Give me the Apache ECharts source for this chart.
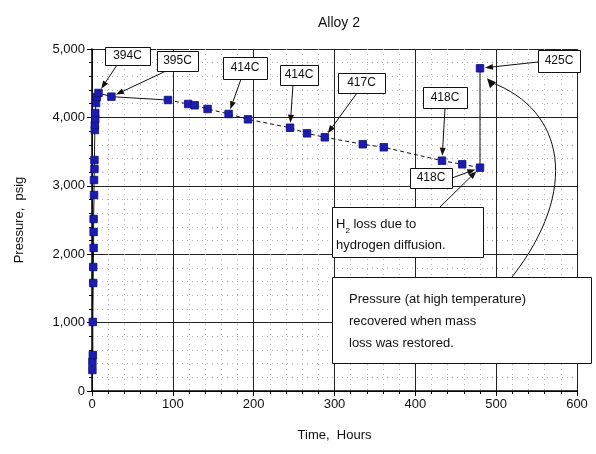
<!DOCTYPE html>
<html><head><meta charset="utf-8">
<script src="https://cdn.jsdelivr.net/npm/echarts@6/dist/echarts.min.js"></script>
<style>html,body{margin:0;padding:0;background:#fff}#c{width:596px;height:454px}</style>
</head><body><div id="c"></div>
<script>
// ---- data (time in hours, pressure in psig) ----
const times = [0.5,0.5,1,1,1.5,1.5,2,2,2,2.5,2.5,3,3,3.5,3.5,4,4,5,6,8,24,94,119,127,143,169,193,245,266,288,335,361,433,458,480,480];
const pressures = [307,424,526,1009,1579,1813,2091,2325,2515,2865,3085,3246,3377,3816,3889,3977,4064,4211,4298,4357,4303,4254,4196,4177,4123,4050,3972,3849,3767,3709,3607,3563,3367,3314,3265,4718];
const xTicks = [0,100,200,300,400,500,600];
const yTicks = [0,1000,2000,3000,4000,5000];
// annotation labels and the data point index each points to
const tempLabels = ['394C','395C','414C','414C','417C','418C','418C','425C'];
const tempTargets = [19,20,25,27,29,32,34,35];

const pts = times.map((t,i)=>[t,pressures[i]]);
const seg1 = pts.slice(0,22), seg2 = pts.slice(21,35), seg3 = pts.slice(34,36);

const chart = echarts.init(document.getElementById('c'));
const font = 'Liberation Sans, Arial, sans-serif';
const lineSeries = (data, type) => ({type:'line', data, symbol:'none', silent:true,
  lineStyle:{color:'#111', width:1, type}, z:2});
chart.setOption({
  animation:false,
  title:{text:'Alloy 2', left:334, top:11, textAlign:'center',
    textStyle:{fontFamily:font, fontSize:14, fontWeight:'normal', color:'#111'}},
  grid:{left:92, right:19, top:49, bottom:63},
  xAxis:{type:'value', min:xTicks[0], max:xTicks[xTicks.length-1], interval:100,
    name:'Time,  Hours', nameLocation:'middle', nameGap:38,
    nameTextStyle:{fontFamily:font, fontSize:13, color:'#111'},
    axisLine:{onZero:false, lineStyle:{color:'#000', width:1.5}},
    axisTick:{show:true, length:5, inside:false, lineStyle:{color:'#000'}},
    minorTick:{show:true, splitNumber:5, length:3, lineStyle:{color:'#000'}},
    axisLabel:{fontFamily:font, fontSize:13, color:'#111', margin:7},
    splitLine:{show:true, lineStyle:{color:'#222', width:1}},
    minorSplitLine:{show:true, lineStyle:{color:'#b4b4b4', type:[1,4], width:1}}},
  yAxis:{type:'value', min:yTicks[0], max:yTicks[yTicks.length-1], interval:1000,
    name:'Pressure,  psig', nameLocation:'middle', nameGap:66, nameRotate:90,
    nameTextStyle:{fontFamily:font, fontSize:13, color:'#111'},
    axisLine:{show:true, onZero:false, lineStyle:{color:'#000', width:1.5}},
    axisTick:{show:true, length:5, lineStyle:{color:'#000'}},
    minorTick:{show:true, splitNumber:5, length:3, lineStyle:{color:'#000'}},
    axisLabel:{fontFamily:font, fontSize:13, color:'#111', margin:7,
      formatter:v=>v.toLocaleString('en-US')},
    splitLine:{show:true, lineStyle:{color:'#222', width:1}},
    minorSplitLine:{show:true, lineStyle:{color:'#b4b4b4', type:[1,4], width:1}}},
  series:[
    lineSeries(seg1,'solid'),
    lineSeries(seg2,[4,3]),
    lineSeries(seg3,'solid'),
    {type:'scatter', data:pts, symbol:'rect', symbolSize:7.5, z:5,
      itemStyle:{color:'#1c1cb0', opacity:1, borderColor:'#0c0c80', borderWidth:0.8}}
  ]
});

// ---- annotations (boxes placed in pixels, arrows aimed at data points) ----
const boxes = [ // [x, y, w, h, arrow start x, arrow start y]
  [105,47,45,18,117,65],
  [157,51,41,20,166,71],
  [223,57,44,22,241,79],
  [280,65,38,20,293,85],
  [338,73,47,20,357,93],
  [423,87,44,21,445,108],
  [410,168,42,20,452,178],
  [538,50,42,22,538,62]
];
const g = [];
function arrow(x1,y1,x2,y2,back){
  const dx=x2-x1, dy=y2-y1, L=Math.hypot(dx,dy), ux=dx/L, uy=dy/L;
  const ex=x2-ux*back, ey=y2-uy*back;
  const hx=ex-ux*8, hy=ey-uy*8, px=-uy*3, py=ux*3;
  g.push({type:'line', shape:{x1,y1,x2:hx,y2:hy}, style:{stroke:'#111', lineWidth:1}, z:20});
  g.push({type:'polygon', shape:{points:[[ex,ey],[hx+px,hy+py],[hx-px,hy-py]]}, style:{fill:'#111'}, z:20});
}
tempLabels.forEach((lab,i)=>{
  const b = boxes[i];
  const p = chart.convertToPixel({gridIndex:0}, pts[tempTargets[i]]);
  arrow(b[4],b[5],p[0],p[1],5);
  g.push({type:'rect', shape:{x:b[0]+0.5,y:b[1]+0.5,width:b[2],height:b[3]}, style:{fill:'#fff', stroke:'#111', lineWidth:1}, z:21});
  g.push({type:'text', x:b[0]+b[2]/2, y:b[1]+b[3]/2, style:{text:lab, fontFamily:font, fontSize:12, fill:'#111', align:'center', verticalAlign:'middle'}, z:22});
});
// H2 loss box
const pLow = chart.convertToPixel({gridIndex:0}, pts[34]);
arrow(440,207,pLow[0],pLow[1],5);
g.push({type:'rect', shape:{x:332.5,y:207.5,width:151,height:50}, style:{fill:'#fff', stroke:'#111', lineWidth:1}, z:21});
g.push({type:'text', x:336, y:214, style:{text:'{a|H}{s|2}{a| loss due to}\n{a|hydrogen diffusion.}', fontFamily:font, fill:'#111',
  rich:{a:{fontFamily:font, fontSize:13, lineHeight:21, fill:'#111'}, s:{fontFamily:font, fontSize:8, verticalAlign:'bottom', padding:[8,0,0,0], fill:'#111'}}}, z:22});
// Pressure recovered box with curved arrow
const pHigh = chart.convertToPixel({gridIndex:0}, pts[35]);
const cx2 = pHigh[0]+7, cy2 = pHigh[1]+10;
g.push({type:'bezierCurve', shape:{x1:512,y1:277,cpx1:580,cpy1:190,cpx2:565,cpy2:110,x2:cx2+4,y2:cy2+4}, style:{stroke:'#111', lineWidth:1, fill:null}, z:20});
g.push({type:'polygon', shape:{points:[[cx2,cy2],[cx2+9,cy2+4],[cx2+3,cy2+10]]}, style:{fill:'#111'}, z:20});
g.push({type:'rect', shape:{x:332.5,y:277.5,width:259,height:86}, style:{fill:'#fff', stroke:'#111', lineWidth:1}, z:21});
g.push({type:'text', x:349, y:288, style:{text:'Pressure (at high temperature)\nrecovered when mass\nloss was restored.', fontFamily:font, fontSize:13, lineHeight:22, fill:'#111'}, z:22});
chart.setOption({graphic:g});
</script></body></html>
